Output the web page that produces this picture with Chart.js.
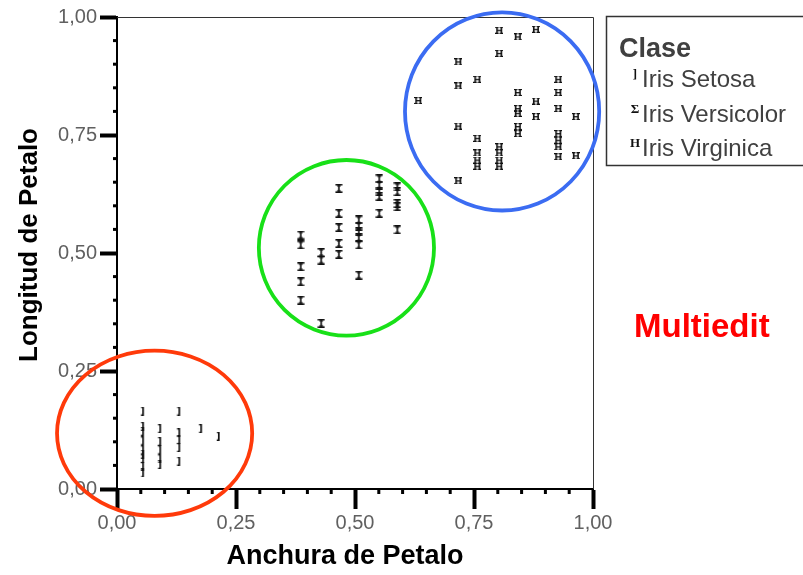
<!DOCTYPE html>
<html>
<head>
<meta charset="utf-8">
<script src="https://cdn.jsdelivr.net/npm/chart.js@4/dist/chart.umd.min.js"></script>
<style>
  html, body { margin: 0; padding: 0; background: #fff; }
  #wrap { width: 803px; height: 575px; position: relative; }
</style>
</head>
<body>
<div id="wrap"><canvas id="c" width="803" height="575"></canvas></div>
<script>
// Normalised petal width (x) and petal length (y) per class
const seriesNames = ['Iris Setosa', 'Iris Versicolor', 'Iris Virginica'];

const setosaWidth  = [0.054, 0.054, 0.054, 0.054, 0.054, 0.054, 0.054, 0.054, 0.054,
                      0.090, 0.090, 0.090, 0.090, 0.090,
                      0.130, 0.130, 0.130, 0.130, 0.130,
                      0.176, 0.213];
const setosaLength = [0.165, 0.133, 0.122, 0.102, 0.083, 0.074, 0.064, 0.048, 0.034,
                      0.128, 0.101, 0.083, 0.064, 0.052,
                      0.165, 0.119, 0.104, 0.088, 0.059,
                      0.128, 0.112];

const versicolorWidth  = [0.386, 0.386, 0.386, 0.386, 0.386,
                          0.429, 0.429, 0.429,
                          0.466, 0.466, 0.466, 0.466, 0.466,
                          0.508, 0.508, 0.508, 0.508, 0.508, 0.508,
                          0.551, 0.551, 0.551, 0.551, 0.551,
                          0.589, 0.589, 0.589, 0.589, 0.589];
const versicolorLength = [0.538, 0.517, 0.471, 0.439, 0.400,
                          0.501, 0.485, 0.351,
                          0.637, 0.584, 0.554, 0.520, 0.497,
                          0.570, 0.557, 0.545, 0.532, 0.517, 0.453,
                          0.657, 0.644, 0.631, 0.620, 0.584,
                          0.640, 0.630, 0.605, 0.598, 0.549];

const virginicaWidth  = [0.633,
                         0.717, 0.717, 0.717, 0.717,
                         0.757, 0.757, 0.757, 0.757, 0.757,
                         0.803, 0.803, 0.803, 0.803, 0.803, 0.803,
                         0.842, 0.842, 0.842, 0.842, 0.842, 0.842,
                         0.880, 0.880, 0.880,
                         0.927, 0.927, 0.927, 0.927, 0.927, 0.927, 0.927,
                         0.964, 0.964];
const virginicaLength = [0.823,
                         0.905, 0.854, 0.769, 0.653,
                         0.868, 0.743, 0.712, 0.697, 0.684,
                         0.972, 0.923, 0.725, 0.712, 0.697, 0.684,
                         0.958, 0.840, 0.806, 0.796, 0.768, 0.753,
                         0.974, 0.822, 0.789,
                         0.868, 0.840, 0.806, 0.753, 0.739, 0.725, 0.704,
                         0.789, 0.706];

const tickLabels = ['0,00', '0,25', '0,50', '0,75', '1,00'];
const legendGlyphs = [']', '\u03A3', 'H'];
const noteText = 'Multiedit';

// Rings around each group, in axis units: [centreX, centreY, radiusX, radiusY]
const ringShapes = [
  [0.079, 0.118, 0.205, 0.175],
  [0.482, 0.511, 0.184, 0.186],
  [0.809, 0.800, 0.204, 0.210]
];
const ringColors = ['#ff3a0a', '#18e018', '#3b6cf2'];

const toPoints = (xs, ys) => xs.map((x, i) => ({ x: x, y: ys[i] }));

// Small glyph-like markers for each class
function makeMarker(kind) {
  const c = document.createElement('canvas');
  const ctx = c.getContext('2d');
  if (kind === 0) {
    c.width = 5; c.height = 9;
    ctx.fillStyle = '#111';
    ctx.fillRect(2, 0, 1.7, 9);
    ctx.fillRect(0.8, 0, 2, 1.3);
    ctx.fillRect(0.8, 7.7, 2, 1.3);
  } else if (kind === 1) {
    c.width = 8; c.height = 9;
    ctx.fillStyle = '#111';
    ctx.fillRect(0.5, 0, 7, 1.6);
    ctx.fillRect(0.5, 7.4, 7, 1.6);
    ctx.fillRect(3.2, 0, 1.6, 9);
    ctx.fillRect(2, 1.5, 4, 1);
    ctx.fillRect(2, 6.5, 4, 1);
  } else {
    c.width = 8; c.height = 7;
    ctx.fillStyle = '#111';
    ctx.fillRect(1, 0, 1.6, 7);
    ctx.fillRect(5.4, 0, 1.6, 7);
    ctx.fillRect(1, 3, 6, 1.3);
    ctx.fillRect(0, 0, 3.5, 1.1);
    ctx.fillRect(4.5, 0, 3.5, 1.1);
    ctx.fillRect(0, 5.9, 3.5, 1.1);
    ctx.fillRect(4.5, 5.9, 3.5, 1.1);
  }
  return c;
}
const markers = [makeMarker(0), makeMarker(1), makeMarker(2)];

const isMajor = v => Math.round(v * 100) % 25 === 0;
const tickText = v => {
  const i = Math.round(v * 100);
  return i % 25 === 0 ? tickLabels[i / 25] : '';
};

const FONT = "'Liberation Sans', Arial, sans-serif";

const decorations = {
  id: 'decorations',
  afterDraw(chart) {
    const { ctx, chartArea: a, scales } = chart;
    const xs = scales.x, ys = scales.y;
    ctx.save();

    // thin frame on top and right
    ctx.strokeStyle = '#333';
    ctx.lineWidth = 1;
    ctx.beginPath();
    ctx.moveTo(a.left, a.top + 0.5);
    ctx.lineTo(a.right + 0.5, a.top + 0.5);
    ctx.lineTo(a.right + 0.5, a.bottom);
    ctx.stroke();

    // minor tick marks
    ctx.fillStyle = '#000';
    xs.ticks.forEach(t => {
      if (isMajor(t.value)) return;
      const px = xs.getPixelForValue(t.value);
      ctx.fillRect(px - 1.5, a.bottom + 1, 3, 4);
    });
    ys.ticks.forEach(t => {
      if (isMajor(t.value)) return;
      const py = ys.getPixelForValue(t.value);
      ctx.fillRect(a.left - 4, py - 1.5, 3, 3);
    });

    // axis titles
    ctx.fillStyle = '#000';
    ctx.font = "bold 27px " + FONT;
    ctx.textAlign = 'center';
    ctx.textBaseline = 'middle';
    ctx.fillText('Anchura de Petalo', 345, 557);
    ctx.save();
    ctx.translate(30, 245);
    ctx.rotate(-Math.PI / 2);
    ctx.font = "bold 26px " + FONT;
    ctx.fillText('Longitud de Petalo', 0, 0);
    ctx.restore();

    // group rings
    ctx.lineWidth = 3.8;
    ringShapes.forEach((r, i) => {
      const cx = xs.getPixelForValue(r[0]);
      const cy = ys.getPixelForValue(r[1]);
      const rx = xs.getPixelForValue(r[0] + r[2]) - cx;
      const ry = cy - ys.getPixelForValue(r[1] + r[3]);
      ctx.strokeStyle = ringColors[i];
      ctx.beginPath();
      ctx.ellipse(cx, cy, rx, ry, 0, 0, Math.PI * 2);
      ctx.stroke();
    });

    // legend box
    ctx.strokeStyle = '#333';
    ctx.lineWidth = 1.5;
    ctx.strokeRect(606.5, 16.5, 210, 149);
    ctx.fillStyle = '#404040';
    ctx.textAlign = 'left';
    ctx.textBaseline = 'alphabetic';
    ctx.font = "bold 27px " + FONT;
    ctx.fillText('Clase', 619, 57);
    const rows = [87, 121.5, 156];
    seriesNames.forEach((name, i) => {
      ctx.fillStyle = '#404040';
      ctx.font = "24px " + FONT;
      ctx.textAlign = 'left';
      ctx.fillText(name, 642, rows[i]);
      ctx.fillStyle = '#111';
      ctx.font = "bold 13px 'Liberation Serif', serif";
      ctx.textAlign = 'center';
      ctx.fillText(legendGlyphs[i], 635, rows[i] - 9);
    });

    // side note
    ctx.fillStyle = '#ff0000';
    ctx.textAlign = 'left';
    ctx.font = "bold 33px " + FONT;
    ctx.textBaseline = 'middle';
    ctx.fillText(noteText, 634, 328);

    ctx.restore();
  }
};

const axisBase = {
  type: 'linear',
  min: 0,
  max: 1,
  border: { display: true, color: '#000', width: 2 },
  title: { display: false }
};

new Chart(document.getElementById('c'), {
  type: 'scatter',
  data: {
    datasets: [
      { label: seriesNames[0], data: toPoints(setosaWidth, setosaLength), pointStyle: markers[0] },
      { label: seriesNames[1], data: toPoints(versicolorWidth, versicolorLength), pointStyle: markers[1] },
      { label: seriesNames[2], data: toPoints(virginicaWidth, virginicaLength), pointStyle: markers[2] }
    ]
  },
  options: {
    responsive: false,
    animation: false,
    devicePixelRatio: 1,
    layout: { padding: { left: 0, top: 17, right: 210, bottom: 0 } },
    plugins: { legend: { display: false }, tooltip: { enabled: false } },
    scales: {
      x: Object.assign({}, axisBase, {
        position: 'bottom',
        ticks: {
          stepSize: 0.05, autoSkip: false, maxRotation: 0, padding: 2,
          color: '#606060', font: { family: FONT, size: 20 },
          callback: v => tickText(v)
        },
        grid: {
          display: true, drawOnChartArea: false, drawTicks: true, tickLength: 20,
          tickWidth: c => isMajor(c.tick.value) ? 4 : 1,
          tickColor: c => isMajor(c.tick.value) ? '#000' : 'rgba(0,0,0,0)'
        },
        afterFit: s => { s.height = 86; s.paddingLeft = 0; s.paddingRight = 0; }
      }),
      y: Object.assign({}, axisBase, {
        position: 'left',
        ticks: {
          stepSize: 0.05, autoSkip: false, padding: 3,
          color: '#606060', font: { family: FONT, size: 20 },
          callback: v => tickText(v)
        },
        grid: {
          display: true, drawOnChartArea: false, drawTicks: true, tickLength: 17,
          tickWidth: c => isMajor(c.tick.value) ? 4 : 1,
          tickColor: c => isMajor(c.tick.value) ? '#000' : 'rgba(0,0,0,0)'
        },
        afterFit: s => { s.width = 117; s.paddingTop = 0; s.paddingBottom = 0; }
      })
    }
  },
  plugins: [decorations]
});
</script>
</body>
</html>
